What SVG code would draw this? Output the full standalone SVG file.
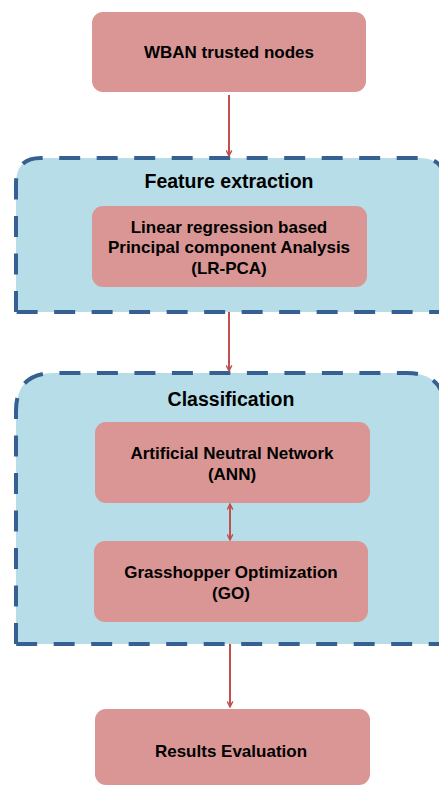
<svg xmlns="http://www.w3.org/2000/svg" width="439" height="785" viewBox="0 0 439 785">
  <defs>
    <style>
      .stage { fill: #B7DEE8; stroke: #376092; stroke-width: 4; stroke-dasharray: 21 16.5; }
      .box { fill: #D99694; }
      .title { font-family: "Liberation Sans", Arial, sans-serif; font-weight: bold; font-size: 19.5px; fill: #000; text-anchor: middle; }
      .label { font-family: "Liberation Sans", Arial, sans-serif; font-weight: bold; font-size: 17px; fill: #000; text-anchor: middle; }
      .link { stroke: #C0504D; stroke-width: 2; fill: none; }
    </style>
    <marker id="head" viewBox="0 0 10 10" refX="9" refY="5" markerWidth="7" markerHeight="7" orient="auto-start-reverse" markerUnits="userSpaceOnUse">
      <path d="M1,1 L9,5 L1,9" fill="none" stroke="#C0504D" stroke-width="2"/>
    </marker>
  </defs>

  <!-- stage containers -->
  <g id="feature-extraction">
    <path class="stage" d="M16,312 L16,183 Q16,158 41,158 L420,158 Q445,158 445,183 L445,312 Z"/>
    <text class="title" x="229" y="188">Feature extraction</text>
  </g>
  <g id="classification">
    <path class="stage" d="M16,644 L16,411 Q16,373 54,373 L407,373 Q445,373 445,411 L445,644 Z"/>
    <text class="title" x="231" y="406">Classification</text>
  </g>

  <!-- process nodes -->
  <g id="wban">
    <rect class="box" x="92" y="12" width="274" height="80" rx="11"/>
    <text class="label" x="229" y="58">WBAN trusted nodes</text>
  </g>
  <g id="lr-pca">
    <rect class="box" x="92" y="206" width="275" height="81" rx="11"/>
    <text class="label" x="229" y="233">Linear regression based</text>
    <text class="label" x="229" y="253">Principal component Analysis</text>
    <text class="label" x="229" y="274">(LR-PCA)</text>
  </g>
  <g id="ann">
    <rect class="box" x="95" y="422" width="275" height="81" rx="11"/>
    <text class="label" x="232" y="459">Artificial Neutral Network</text>
    <text class="label" x="232" y="480">(ANN)</text>
  </g>
  <g id="go">
    <rect class="box" x="94" y="541" width="274" height="81" rx="11"/>
    <text class="label" x="231" y="578">Grasshopper Optimization</text>
    <text class="label" x="231" y="599">(GO)</text>
  </g>
  <g id="results">
    <rect class="box" x="95" y="709" width="275" height="76" rx="11"/>
    <text class="label" x="231" y="757">Results Evaluation</text>
  </g>

  <!-- connectors -->
  <g id="connectors">
    <line class="link" x1="229" y1="95" x2="229" y2="156" marker-end="url(#head)"/>
    <line class="link" x1="229" y1="312" x2="229" y2="371" marker-end="url(#head)"/>
    <line class="link" x1="230" y1="504" x2="230" y2="540" marker-start="url(#head)" marker-end="url(#head)"/>
    <line class="link" x1="230" y1="644" x2="230" y2="707" marker-end="url(#head)"/>
  </g>
</svg>
